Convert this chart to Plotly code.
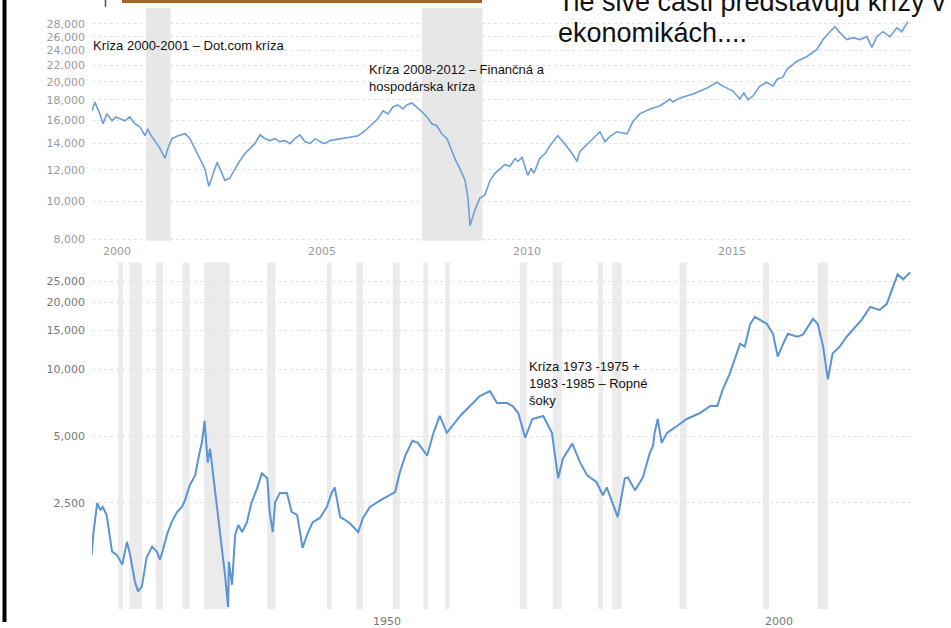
import plotly.graph_objects as go

W, H = 951, 628

# ---------------- data: top chart (last 20 years, inflation adjusted) ----------------
top_years = [1999.88, 1999.95, 2000.07, 2000.15, 2000.24, 2000.37, 2000.46, 2000.56, 2000.68, 2000.80,
             2000.93, 2001.05, 2001.17, 2001.24, 2001.29, 2001.41, 2001.54, 2001.66, 2001.73, 2001.83,
             2001.98, 2002.15, 2002.27, 2002.39, 2002.51, 2002.63, 2002.73, 2002.83, 2002.93, 2003.02,
             2003.12, 2003.24, 2003.37, 2003.49, 2003.61, 2003.73, 2003.85, 2003.98, 2004.10, 2004.22,
             2004.34, 2004.46, 2004.59, 2004.71, 2004.83, 2004.95, 2005.07, 2005.20, 2005.32, 2005.44,
             2005.56, 2005.68, 2005.93, 2006.17, 2006.37, 2006.54, 2006.71, 2006.85, 2006.98, 2007.10,
             2007.22, 2007.34, 2007.46, 2007.56, 2007.68, 2007.80, 2007.93, 2008.05, 2008.17, 2008.29,
             2008.41, 2008.54, 2008.61, 2008.73, 2008.85, 2008.98, 2009.05, 2009.10, 2009.22, 2009.34,
             2009.46, 2009.59, 2009.71, 2009.83, 2009.95, 2010.07, 2010.20, 2010.27, 2010.37, 2010.51,
             2010.59, 2010.66, 2010.80, 2010.93, 2011.05, 2011.24, 2011.41, 2011.59, 2011.71, 2011.78,
             2012.02, 2012.27, 2012.39, 2012.51, 2012.68, 2012.93, 2013.07, 2013.24, 2013.49, 2013.73,
             2013.98, 2014.05, 2014.22, 2014.54, 2014.88, 2015.12, 2015.27, 2015.51, 2015.68, 2015.78,
             2015.88, 2016.00, 2016.17, 2016.34, 2016.49, 2016.59, 2016.73, 2016.83, 2017.07, 2017.32,
             2017.56, 2017.71, 2017.88, 2018.00, 2018.12, 2018.29, 2018.44, 2018.61, 2018.78, 2018.90,
             2019.02, 2019.17, 2019.34, 2019.51, 2019.63, 2019.78]
top_values = [16890, 17780, 16600, 15670, 16600, 15940, 16310, 16130, 15940, 16310,
              15670, 15400, 14620, 15220, 14790, 14210, 13570, 12810, 13570, 14370,
              14620, 14790, 14370, 13570, 12810, 12090, 10900, 11750, 12520, 11950,
              11280, 11420, 12090, 12660, 13180, 13570, 13960, 14700, 14370, 14210,
              14370, 14130, 14210, 13960, 14370, 14700, 14130, 13960, 14370, 14130,
              13960, 14210, 14370, 14540, 14620, 15050, 15670, 16130, 16890, 16600,
              17280, 17480, 17080, 17480, 17680, 17280, 16790, 16310, 15670, 15490,
              14790, 14370, 13720, 12810, 12090, 11280, 10170, 8660, 9500, 10170,
              10350, 11280, 11750, 12090, 12370, 12230, 12810, 12590, 12880, 11610,
              12090, 11750, 12810, 13180, 13800, 14620, 13960, 13180, 12590, 13340,
              14130, 14960, 14130, 14540, 14960, 14790, 15850, 16600, 17080, 17380,
              18100, 17780, 18200, 18620, 19280, 19950, 19500, 18950, 18100, 18730,
              18000, 18410, 19500, 19950, 19500, 20300, 20540, 21500, 22510, 23170,
              24130, 25560, 26760, 27540, 26610, 25560, 25850, 25560, 26000, 24410,
              26000, 26760, 26000, 27380, 26760, 28350]
top_recession_start = [2001.20, 2007.93]
top_recession_end = [2001.80, 2009.40]
top_yticks = [8000, 10000, 12000, 14000, 16000, 18000, 20000, 22000, 24000, 26000, 28000]
top_xticks = [2000, 2005, 2010, 2015]

# ---------------- data: bottom chart (100 years, inflation adjusted) ----------------
bottom_years = [1915.4, 1915.6, 1916.1, 1916.5, 1916.8, 1917.3, 1918.0, 1918.6, 1919.3, 1919.9,
                1920.3, 1920.9, 1921.3, 1921.8, 1922.4, 1923.1, 1923.7, 1924.1, 1924.5, 1925.0,
                1925.6, 1926.3, 1926.9, 1927.3, 1927.9, 1928.6, 1929.0, 1929.5, 1929.8, 1930.2,
                1930.5, 1930.9, 1931.5, 1932.0, 1932.4, 1932.8, 1932.9, 1933.3, 1933.7, 1934.1,
                1934.6, 1935.2, 1935.8, 1936.5, 1937.1, 1937.8, 1938.1, 1938.5, 1938.8, 1939.4,
                1940.3, 1940.9, 1941.6, 1942.3, 1943.0, 1943.6, 1944.5, 1945.4, 1946.0, 1946.4,
                1947.1, 1947.7, 1948.3, 1949.4, 1950.0, 1950.9, 1952.2, 1953.4, 1954.1, 1954.7,
                1955.4, 1956.3, 1957.0, 1958.2, 1959.0, 1959.8, 1960.7, 1962.4, 1963.6, 1964.9,
                1966.2, 1967.1, 1968.4, 1969.1, 1969.8, 1970.7, 1971.6, 1973.0, 1974.1, 1974.9,
                1975.5, 1976.7, 1977.7, 1978.6, 1979.8, 1980.6, 1981.1, 1981.9, 1982.5, 1983.4,
                1983.8, 1984.7, 1985.7, 1986.6, 1987.0, 1987.2, 1987.6, 1988.1, 1988.8, 1990.1,
                1991.3, 1993.0, 1994.3, 1995.2, 1995.9, 1996.8, 1997.4, 1998.1, 1998.7, 1999.4,
                2000.0, 2000.6, 2001.5, 2002.3, 2002.9, 2003.6, 2004.2, 2005.4, 2006.1, 2007.4,
                2008.0, 2008.7, 2009.3, 2009.9, 2010.8, 2011.7, 2012.5, 2013.6, 2014.7, 2015.9,
                2016.8, 2017.6, 2018.2, 2018.9, 2019.8]
bottom_values = [1460, 1800, 2500, 2320, 2400, 2210, 1510, 1460, 1320, 1670,
                 1460, 1110, 1000, 1050, 1420, 1590, 1510, 1390, 1540, 1800,
                 2050, 2280, 2400, 2570, 3000, 3330, 3960, 4770, 5860, 3800,
                 4390, 3330, 2280, 1620, 1190, 850, 1360, 1070, 1800, 1990,
                 1850, 2050, 2520, 2910, 3400, 3230, 2280, 1850, 2520, 2770,
                 2770, 2280, 2210, 1570, 1850, 2050, 2140, 2400, 2770, 2940,
                 2160, 2100, 2030, 1850, 2140, 2400, 2570, 2710, 2800, 3430,
                 4090, 4770, 4670, 4090, 5180, 6170, 5180, 6170, 6840, 7580,
                 7980, 7050, 7050, 6840, 6360, 4920, 5980, 6170, 5180, 3230,
                 3960, 4630, 3800, 3330, 3100, 2710, 2940, 2450, 2160, 3230,
                 3260, 2850, 3260, 4220, 4530, 5180, 5980, 4670, 5180, 5570,
                 5980, 6360, 6840, 6840, 8140, 9600, 11080, 13060, 12670, 16050,
                 17240, 16720, 16050, 14480, 11430, 13060, 14480, 14040, 14330, 16890,
                 16050, 12670, 9020, 11790, 12670, 14040, 15090, 16720, 19110, 18530,
                 19710, 23470, 26830, 25480, 27380]
bottom_recession_start = [1918.75, 1920.2, 1923.6, 1927.0, 1929.7, 1937.8, 1945.4, 1949.2, 1953.8,
                          1957.7, 1960.5, 1970.0, 1974.2, 1980.0, 1981.8, 1990.4, 2001.0, 2008.0]
bottom_recession_end = [1919.4, 1921.8, 1924.5, 1927.9, 1933.0, 1938.8, 1946.0, 1950.0, 1954.7,
                        1958.3, 1961.1, 1970.9, 1975.4, 1980.6, 1983.0, 1991.3, 2001.8, 2009.3]
bottom_yticks = [2500, 5000, 10000, 15000, 20000, 25000]
bottom_xticks = [1950, 2000]

# ---------------- texts ----------------
title_line1 = "Tie sivé časti predstavujú krízy v"
title_line2 = "ekonomikách...."
note_dotcom = "Kríza 2000-2001 – Dot.com kríza"
note_2008 = "Kríza 2008-2012 – Finančná a<br>hospodárska kríza"
note_oil = "Kríza 1973 -1975 +<br>1983 -1985 – Ropné<br>šoky"


def px(x):
    return x / W


def py(y):
    return 1 - y / H


TEXT_FONT = "Liberation Sans, Arial, sans-serif"

fig = go.Figure()
fig.add_trace(go.Scatter(x=top_years, y=top_values, mode="lines", xaxis="x", yaxis="y",
                         line=dict(color="#6c9fd6", width=1.6), hoverinfo="skip"))
fig.add_trace(go.Scatter(x=bottom_years, y=bottom_values, mode="lines", xaxis="x2", yaxis="y2",
                         line=dict(color="#5a94d4", width=2), hoverinfo="skip"))

shapes = []
for a, b in zip(top_recession_start, top_recession_end):
    shapes.append(dict(type="rect", xref="x", yref="y domain", x0=a, x1=b, y0=0, y1=1,
                       fillcolor="#e7e7e7", line=dict(width=0), layer="below"))
for a, b in zip(bottom_recession_start, bottom_recession_end):
    shapes.append(dict(type="rect", xref="x2", yref="y2 domain", x0=a, x1=b, y0=0, y1=1,
                       fillcolor="#ebebeb", line=dict(width=0), layer="below"))
# slide decorations
shapes.append(dict(type="rect", xref="paper", yref="paper", x0=px(2.5), x1=px(6.5), y0=0, y1=1,
                   fillcolor="black", line=dict(width=0)))
shapes.append(dict(type="rect", xref="paper", yref="paper", x0=px(122), x1=px(482), y0=py(3), y1=py(0),
                   fillcolor="#a0662e", line=dict(width=0)))
shapes.append(dict(type="line", xref="paper", yref="paper", x0=px(105.5), x1=px(105.5), y0=py(7), y1=py(0),
                   line=dict(color="#555555", width=1.5)))

annotations = [
    dict(text=title_line1, x=px(556), y=py(2), xanchor="left", yanchor="middle",
         font=dict(family=TEXT_FONT, size=27, color="#111111")),
    dict(text=title_line2, x=px(556), y=py(33), xanchor="left", yanchor="middle",
         font=dict(family=TEXT_FONT, size=27, color="#111111")),
    dict(text=note_dotcom, x=px(91), y=py(46), xanchor="left", yanchor="middle",
         font=dict(family=TEXT_FONT, size=13, color="#111111")),
    dict(text=note_2008, x=px(367), y=py(79), xanchor="left", yanchor="middle", align="left",
         font=dict(family=TEXT_FONT, size=13, color="#111111")),
    dict(text=note_oil, x=px(527), y=py(387), xanchor="left", yanchor="middle", align="left",
         font=dict(family=TEXT_FONT, size=13, color="#111111")),
]
for a in annotations:
    a.update(xref="paper", yref="paper", showarrow=False)

tick_font_top = dict(family="DejaVu Sans, sans-serif", size=11, color="#9a9a9a")
tick_font_bot = dict(family="DejaVu Sans, sans-serif", size=11, color="#777777")

fig.update_layout(
    width=W, height=H, margin=dict(l=0, r=0, t=0, b=0),
    paper_bgcolor="white", plot_bgcolor="white", showlegend=False,
    shapes=shapes, annotations=annotations,
    xaxis=dict(domain=[px(92), px(912)], range=[1999.88, 2019.88], anchor="y",
               tickvals=top_xticks, ticktext=[str(v) for v in top_xticks],
               showgrid=False, zeroline=False, showline=False, ticks="",
               tickfont=tick_font_top, ticklabelshift=20, ticklabelstandoff=2),
    yaxis=dict(domain=[py(243), py(8)], type="log", range=[3.9, 4.4875], anchor="x",
               tickvals=top_yticks, ticktext=[f"{v:,}" for v in top_yticks],
               showgrid=True, gridcolor="#e2e2e2", griddash="dot", gridwidth=1,
               zeroline=False, showline=False, ticks="",
               tickfont=tick_font_top, ticklabelstandoff=6),
    xaxis2=dict(domain=[px(92), px(912)], range=[1915.44, 2020.03], anchor="y2",
                tickvals=bottom_xticks, ticktext=[str(v) for v in bottom_xticks],
                showgrid=False, zeroline=False, showline=False, ticks="",
                tickfont=tick_font_bot, ticklabelshift=24, ticklabelstandoff=4),
    yaxis2=dict(domain=[py(615), py(265)], type="log", range=[2.9196, 4.4821], anchor="x2",
                tickvals=bottom_yticks, ticktext=[f"{v:,}" for v in bottom_yticks],
                showgrid=True, gridcolor="#e2e2e2", griddash="dot", gridwidth=1,
                zeroline=False, showline=False, ticks="",
                tickfont=tick_font_bot, ticklabelstandoff=6),
)

fig.write_html("out.html", config={"displayModeBar": False},
               post_script="document.body.style.margin='0';document.body.style.overflow='hidden';")
